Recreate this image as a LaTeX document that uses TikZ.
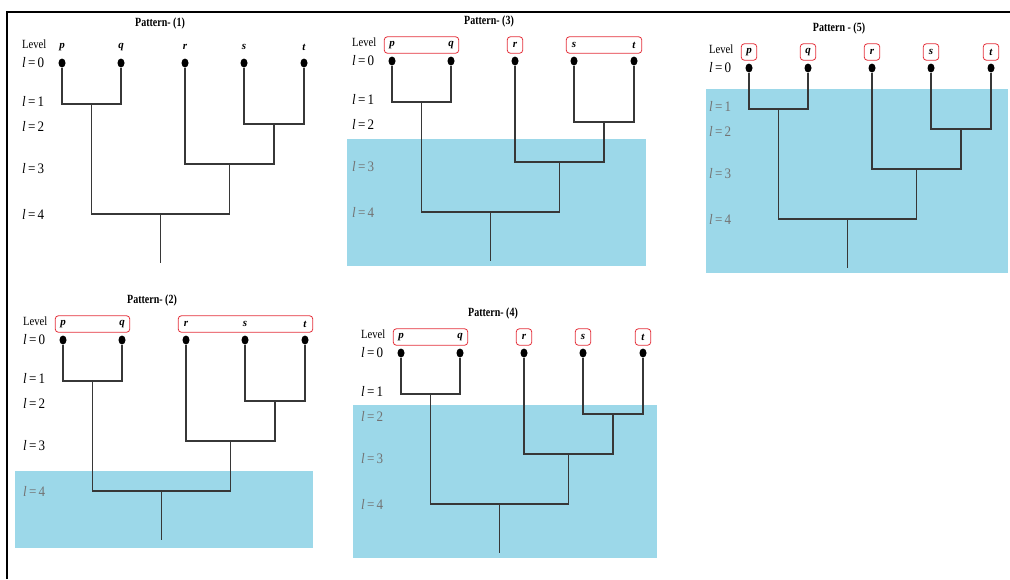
\documentclass[tikz,border=0pt]{standalone}
\usepackage{fontspec}
\usepackage{graphicx}
\setmainfont{Liberation Serif}
\usetikzlibrary{shapes.geometric,fit}

\definecolor{shade}{RGB}{156,216,233}
\definecolor{grpred}{RGB}{228,48,58}
\definecolor{branchgray}{RGB}{55,55,55}

% condensed lettering for titles and level captions
\newcommand{\condensed}[2][0.82]{\scalebox{#1}[1]{#2}}

\tikzset{
  leafdot/.style={ellipse,fill=black,inner sep=0pt,minimum width=7pt,minimum height=9pt},
  branch/.style={draw=branchgray,line width=1.3pt},
  leaflabel/.style={font=\fontsize{11}{12}\selectfont\bfseries\itshape,inner sep=0pt,
                    minimum width=15pt,minimum height=16pt},
  lvl/.style={font=\fontsize{14.5}{16}\selectfont,anchor=west,inner sep=0pt},
  lvlhead/.style={font=\fontsize{12.5}{14}\selectfont,anchor=west,inner sep=0pt},
  ptitle/.style={font=\fontsize{12.5}{14}\selectfont\bfseries,inner sep=0pt},
  grp/.style={draw=grpred,rounded corners=3pt,inner sep=0pt,line width=0.8pt},
  shaded/.style={fill=shade,draw=none},
  frame/.style={line width=2pt,draw=black}
}

% One dendrogram of the leaves p, q, r, s, t.
% #1 prefix, #2/#3 position of leaf p, #4 title, #5 title offset,
% #6 first level that lies in the shaded band (5 = none)
\newcommand{\dendro}[6]{%
  \begin{scope}[shift={(#2,#3)}]
    \node[ptitle] (#1-title) at (#5,-40) {\condensed[0.8]{#4}};
    \node[lvlhead] (#1-level) at (-40,-19) {\condensed[0.85]{Level}};
    \foreach \k/\dy in {0/0,1/38,2/63,3/106,4/151}{%
      \ifnum\k<#6\relax\def\lvc{black}\else\def\lvc{black!55}\fi
      \node[lvl,text=\lvc] (#1-l\k) at (-40,\dy) {\condensed[0.9]{\textit{l}\,=\,\k}};
    }
    \foreach \n/\x in {p/0,q/59,r/123,s/182,t/242}{%
      \node[leaflabel] (#1-n\n) at (\x,-16) {\n};
      \node[leafdot] (#1-\n) at (\x,0) {};
    }
    \coordinate (#1-pq)   at (29.5,41);
    \coordinate (#1-st)   at (212,61);
    \coordinate (#1-rst)  at (167.5,101);
    \coordinate (#1-root) at (98.5,151);
    \coordinate (#1-end)  at (98.5,200);
    \draw[branch] (#1-p) |- (#1-pq) -| (#1-q);
    \draw[branch] (#1-s) |- (#1-st) -| (#1-t);
    \draw[branch] (#1-r) |- (#1-rst) -| (#1-st);
    \draw[branch] (#1-pq) |- (#1-root) -| (#1-rst);
    \draw[branch] (#1-root) -- (#1-end);
  \end{scope}}

\begin{document}
\begin{tikzpicture}[x=1pt,y=-1pt]
  \useasboundingbox (0,0) rectangle (1010,579);

  % shaded bands
  \fill[shaded] (347,139) rectangle (646,266);
  \fill[shaded] (706,89) rectangle (1008,273);
  \fill[shaded] (15,471) rectangle (313,548);
  \fill[shaded] (353,405) rectangle (657,558);

  % outer frame
  \draw[frame] (7,579) -- (7,12) -- (1010,12);

  \dendro{A}{62}{63}{Pattern- (1)}{98}{5}
  \dendro{C}{392}{61}{Pattern- (3)}{97}{3}
  \dendro{E}{749}{68}{Pattern - (5)}{90}{1}
  \dendro{B}{63}{340}{Pattern- (2)}{89}{4}
  \dendro{D}{401}{353}{Pattern- (4)}{92}{2}

  % grouping boxes
  \node[grp,fit=(C-np)(C-nq)] (C-g1) {};
  \node[grp,fit=(C-nr)] (C-g2) {};
  \node[grp,fit=(C-ns)(C-nt)] (C-g3) {};

  \node[grp,fit=(E-np)] (E-g1) {};
  \node[grp,fit=(E-nq)] (E-g2) {};
  \node[grp,fit=(E-nr)] (E-g3) {};
  \node[grp,fit=(E-ns)] (E-g4) {};
  \node[grp,fit=(E-nt)] (E-g5) {};

  \node[grp,fit=(B-np)(B-nq)] (B-g1) {};
  \node[grp,fit=(B-nr)(B-ns)(B-nt)] (B-g2) {};

  \node[grp,fit=(D-np)(D-nq)] (D-g1) {};
  \node[grp,fit=(D-nr)] (D-g2) {};
  \node[grp,fit=(D-ns)] (D-g3) {};
  \node[grp,fit=(D-nt)] (D-g4) {};
\end{tikzpicture}
\end{document}
